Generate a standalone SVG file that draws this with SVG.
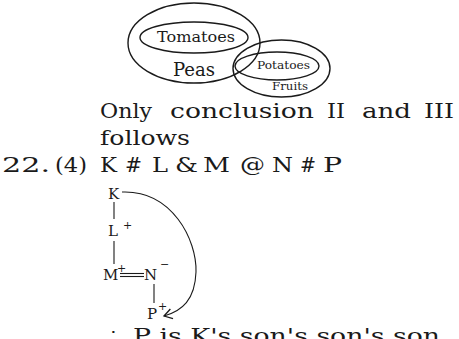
<svg xmlns="http://www.w3.org/2000/svg" width="459" height="339" viewBox="0 0 459 339">
<defs>
<style>
text{font-family:"DejaVu Serif","Liberation Serif",serif;fill:#1a1a1a}
.big{font-size:20px}
.sm{font-size:15px}
.sup{font-size:11px}
.ell{fill:none;stroke:#1a1a1a;stroke-width:1.4}
.ln{stroke:#1a1a1a;stroke-width:1.1;fill:none}
</style>
<marker id="arr" markerWidth="12" markerHeight="12" refX="10" refY="6" orient="auto" markerUnits="userSpaceOnUse">
<polyline points="2,1 10,6 2,11" fill="none" stroke="#1a1a1a" stroke-width="1.3"/>
</marker>
</defs>
<rect width="459" height="339" fill="#fff"/>
<g id="venn">
<ellipse class="ell" cx="194" cy="43" rx="66" ry="40"/>
<ellipse class="ell" cx="194" cy="37.5" rx="54" ry="15.5"/>
<ellipse class="ell" cx="281.5" cy="68.5" rx="48.5" ry="28.5"/>
<ellipse class="ell" cx="277" cy="66" rx="42" ry="14"/>
<text x="157" y="42" font-size="14" textLength="78" lengthAdjust="spacingAndGlyphs">Tomatoes</text>
<text x="173" y="76" font-size="18" textLength="42" lengthAdjust="spacingAndGlyphs">Peas</text>
<text x="257" y="69" font-size="11.5" textLength="53" lengthAdjust="spacingAndGlyphs">Potatoes</text>
<text x="272" y="90" font-size="11" textLength="36" lengthAdjust="spacingAndGlyphs">Fruits</text>
</g>
<g id="text-lines" class="big">
<text class="big" x="100" y="118" textLength="52" lengthAdjust="spacingAndGlyphs">Only</text>
<text class="big" x="170" y="118" textLength="144" lengthAdjust="spacingAndGlyphs">conclusion</text>
<text class="big" x="327" y="118" textLength="18" lengthAdjust="spacingAndGlyphs">II</text>
<text class="big" x="362" y="118" textLength="49" lengthAdjust="spacingAndGlyphs">and</text>
<text class="big" x="424" y="118" textLength="30" lengthAdjust="spacingAndGlyphs">III</text>
<text class="big" x="100" y="145" textLength="90" lengthAdjust="spacingAndGlyphs">follows</text>
<text class="big" x="2" y="172" textLength="48" lengthAdjust="spacingAndGlyphs">22.</text>
<text class="big" x="55" y="172" textLength="32" lengthAdjust="spacingAndGlyphs">(4)</text>
<text class="big" x="100" y="172" textLength="17" lengthAdjust="spacingAndGlyphs">K</text>
<text class="big" x="125" y="172" textLength="17" lengthAdjust="spacingAndGlyphs">#</text>
<text class="big" x="152" y="172" textLength="16" lengthAdjust="spacingAndGlyphs">L</text>
<text class="big" x="175" y="172" textLength="23" lengthAdjust="spacingAndGlyphs">&amp;</text>
<text class="big" x="203" y="172" textLength="27" lengthAdjust="spacingAndGlyphs">M</text>
<text class="big" x="240" y="172" textLength="25" lengthAdjust="spacingAndGlyphs">@</text>
<text class="big" x="272" y="172" textLength="21" lengthAdjust="spacingAndGlyphs">N</text>
<text class="big" x="300" y="172" textLength="16" lengthAdjust="spacingAndGlyphs">#</text>
<text class="big" x="323" y="172" textLength="19" lengthAdjust="spacingAndGlyphs">P</text>
<text class="big" x="107" y="343">∴</text>
<text class="big" x="133" y="343" textLength="307" lengthAdjust="spacingAndGlyphs">P is K's son's son's son</text>
</g>
<g id="connectors">
<line class="ln" x1="114" y1="202" x2="114" y2="219"/>
<line class="ln" x1="114" y1="241" x2="114" y2="264"/>
<line class="ln" x1="120" y1="273.5" x2="144" y2="273.5"/>
<line class="ln" x1="120" y1="276.5" x2="144" y2="276.5"/>
<line class="ln" x1="154" y1="284" x2="154" y2="303"/>
<path class="ln" d="M122,192 C172,190 197,240 196,272 C195,300 182,311 164,316" marker-end="url(#arr)"/>
</g>
<g id="node-K"><text class="sm" x="108" y="199">K</text></g>
<g id="node-L"><text class="sm" x="108" y="236">L</text><text class="sup" x="123" y="229">+</text></g>
<g id="node-M"><text class="sm" x="103" y="280">M</text><text class="sup" x="117" y="272">+</text></g>
<g id="node-N"><text class="sm" x="144" y="280">N</text><text class="sup" x="160" y="268">−</text></g>
<g id="node-P"><text class="sm" x="147" y="319">P</text><text class="sup" x="158" y="310">+</text></g>
</svg>
